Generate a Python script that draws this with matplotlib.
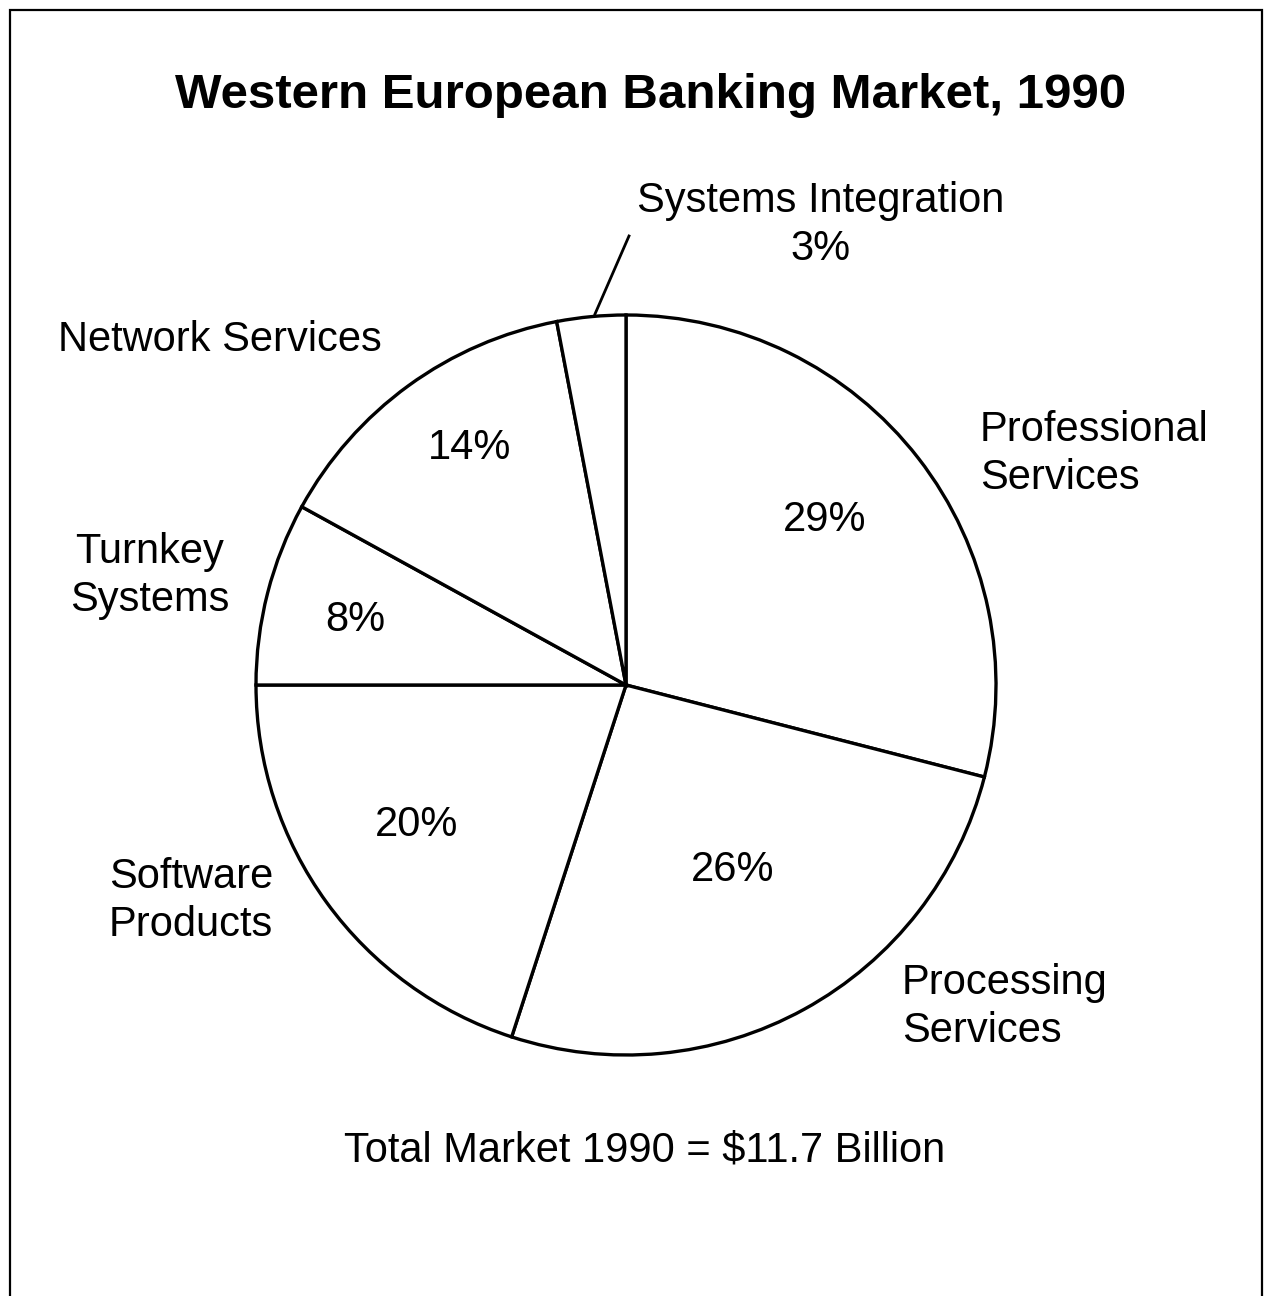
import matplotlib
matplotlib.use('Agg')
import matplotlib.pyplot as plt
from matplotlib.patches import Rectangle

plt.rcParams['font.family'] = ['Liberation Sans', 'DejaVu Sans']

# data, clockwise from 12 o'clock
segments = ['Professional\nServices', 'Processing\nServices', 'Software\nProducts',
            'Turnkey\nSystems', 'Network Services', 'Systems Integration']
shares = [29, 26, 20, 8, 14, 3]
pct_labels = ['29%', '26%', '20%', '8%', '14%', '3%']
title = 'Western European Banking Market, 1990'
footer = 'Total Market 1990 = $11.7 Billion'

W, H = 1268, 1296
fig = plt.figure(figsize=(W / 100, H / 100), dpi=100)
ax = fig.add_axes([0, 0, 1, 1])

def Y(y):
    # image row -> data y
    return H - y

ax.pie(shares, startangle=90, counterclock=False, center=(626, Y(685)), radius=370,
       colors=['white'] * len(shares),
       wedgeprops=dict(edgecolor='black', linewidth=2.4), frame=True)
ax.set_xlim(0, W)
ax.set_ylim(0, H)
ax.set_aspect('equal')
ax.axis('off')

# outer frame (runs off the bottom)
ax.add_patch(Rectangle((10, -20), 1252, Y(10) + 20, fill=False, edgecolor='black', linewidth=1.6))

fs = 30
ls = 1.27
ax.text(651, Y(95), title, fontsize=35.5, fontweight='bold', ha='center', va='center')

# outside labels
ax.text(821, Y(225), segments[5] + '\n' + pct_labels[5], fontsize=fs, ha='center', va='center',
        linespacing=ls)
ax.plot([595, 629], [Y(314), Y(236)], color='black', linewidth=2)
ax.text(58, Y(340), segments[4], fontsize=fs, ha='left', va='center')
ax.text(980, Y(454), segments[0], fontsize=fs, ha='left', va='center', linespacing=ls)
ax.text(150, Y(576), segments[3], fontsize=fs, ha='center', va='center', linespacing=ls)
ax.text(191, Y(901), segments[2], fontsize=fs, ha='center', va='center', linespacing=ls)
ax.text(902, Y(1007), segments[1], fontsize=fs, ha='left', va='center', linespacing=ls)

# percentages inside wedges
for txt, (x, y) in zip(pct_labels[:5], [(825, 520), (733, 870), (417, 825), (355, 620), (470, 448)]):
    ax.text(x, Y(y), txt, fontsize=fs, ha='center', va='center')

ax.text(645, Y(1150), footer, fontsize=fs, ha='center', va='center')

fig.savefig('out.png', dpi=100, facecolor='white')
